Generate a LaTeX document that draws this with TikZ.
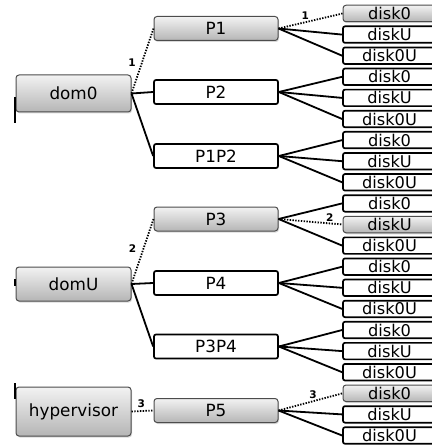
\documentclass[tikz,border=0pt]{standalone}
\usepackage{fontspec}
\setmainfont{DejaVu Sans}
\usetikzlibrary{shadows}
\begin{document}
\begin{tikzpicture}[x=1pt, y=-1pt,
  boxfont/.style={font=\fontsize{16.8}{17}\selectfont},
  graybox/.style={boxfont, draw=black!70, line width=1pt, rounded corners=3pt,
    top color=gray!10, bottom color=gray!58, inner sep=0pt,
    drop shadow={opacity=0.3, shadow xshift=1pt, shadow yshift=-1.5pt}},
  whitebox/.style={boxfont, draw=black, line width=1.7pt, rounded corners=2pt,
    fill=white, inner sep=0pt},
  dom/.style={graybox, minimum width=115pt},
  proc/.style={minimum width=124pt, minimum height=24pt},
  disk/.style={minimum width=93pt, minimum height=16.5pt,
    font=\fontsize{16.2}{16}\selectfont},
  link/.style={draw=black, line width=1.8pt},
  dotlink/.style={draw=black, line width=1.8pt, dash pattern=on 1.4pt off 1.4pt},
  stub/.style={draw=black, line width=1.3pt},
  lbl/.style={font=\fontsize{10.5}{10.5}\bfseries, inner sep=0pt}]
\useasboundingbox (0,0) rectangle (431,446);

% domains
\node[dom, minimum height=37pt] (dom0) at (73.5,93.5) {dom0};
\node[dom, minimum height=34pt] (domU) at (73.5,284) {domU};
\node[dom, minimum height=49pt] (hyp)  at (73.5,411.5) {hypervisor};

% stubs on the left edge
\coordinate (sa1) at (15,97);  \coordinate (sb1) at (15,123);
\coordinate (sa2) at (15,279); \coordinate (sb2) at (15,286);
\coordinate (sa3) at (15,383); \coordinate (sb3) at (15,399);
\draw[stub] (sa1) -- (sb1);
\draw[stub] (sa2) -- (sb2);
\draw[stub] (sa3) -- (sb3);

% partitions
\node[graybox, proc]  (P1)   at (216,28.5) {P1};
\node[whitebox, proc] (P2)   at (216,92)   {P2};
\node[whitebox, proc] (P1P2) at (216,156)  {P1P2};
\node[graybox, proc]  (P3)   at (216,219)  {P3};
\node[whitebox, proc] (P4)   at (216,283)  {P4};
\node[whitebox, proc] (P3P4) at (216,346.5){P3P4};
\node[graybox, proc]  (P5)   at (216,410.5){P5};

% disks
\node[graybox, disk]  (d1)  at (389.5,13.5)  {disk0};
\node[whitebox, disk] (d2)  at (389.5,34.6)  {diskU};
\node[whitebox, disk] (d3)  at (389.5,55.7)  {disk0U};
\node[whitebox, disk] (d4)  at (389.5,76.8)  {disk0};
\node[whitebox, disk] (d5)  at (389.5,97.9)  {diskU};
\node[whitebox, disk] (d6)  at (389.5,119.0) {disk0U};
\node[whitebox, disk] (d7)  at (389.5,140.1) {disk0};
\node[whitebox, disk] (d8)  at (389.5,161.2) {diskU};
\node[whitebox, disk] (d9)  at (389.5,182.3) {disk0U};
\node[whitebox, disk] (d10) at (389.5,203.4) {disk0};
\node[graybox, disk]  (d11) at (389.5,224.5) {diskU};
\node[whitebox, disk] (d12) at (389.5,245.6) {disk0U};
\node[whitebox, disk] (d13) at (389.5,266.7) {disk0};
\node[whitebox, disk] (d14) at (389.5,287.8) {diskU};
\node[whitebox, disk] (d15) at (389.5,308.9) {disk0U};
\node[whitebox, disk] (d16) at (389.5,330.0) {disk0};
\node[whitebox, disk] (d17) at (389.5,351.1) {diskU};
\node[whitebox, disk] (d18) at (389.5,372.2) {disk0U};
\node[graybox, disk]  (d19) at (389.5,393.3) {disk0};
\node[whitebox, disk] (d20) at (389.5,414.4) {diskU};
\node[whitebox, disk] (d21) at (389.5,435.5) {disk0U};

% domain -> partition links
\draw[dotlink] (dom0.east) -- node[lbl, pos=0.48, xshift=-10pt] {1} (P1.west);
\draw[link] (dom0.east) -- (P2.west);
\draw[link] (dom0.east) -- (P1P2.west);
\draw[dotlink] (domU.east) -- node[lbl, pos=0.55, xshift=-11pt] {2} (P3.west);
\draw[link] (domU.east) -- (P4.west);
\draw[link] (domU.east) -- (P3P4.west);
\draw[dotlink] (hyp.east) -- node[lbl, pos=0.45, yshift=7pt] {3} (P5.west);

% partition -> disk links
\draw[dotlink] (P1.east) -- node[lbl, pos=0.42, yshift=7pt] {1} (d1.west);
\draw[link] (P1.east) -- (d2.west);
\draw[link] (P1.east) -- (d3.west);
\foreach \p/\a/\b/\c in {P2/d4/d5/d6, P1P2/d7/d8/d9, P4/d13/d14/d15, P3P4/d16/d17/d18}{
  \draw[link] (\p.east) -- (\a.west);
  \draw[link] (\p.east) -- (\b.west);
  \draw[link] (\p.east) -- (\c.west);
}
\draw[link] (P3.east) -- (d10.west);
\draw[dotlink] (P3.east) -- node[lbl, pos=0.8, yshift=6pt] {2} (d11.west);
\draw[link] (P3.east) -- (d12.west);
\draw[dotlink] (P5.east) -- node[lbl, pos=0.54, yshift=7pt] {3} (d19.west);
\draw[link] (P5.east) -- (d20.west);
\draw[link] (P5.east) -- (d21.west);
\end{tikzpicture}
\end{document}
